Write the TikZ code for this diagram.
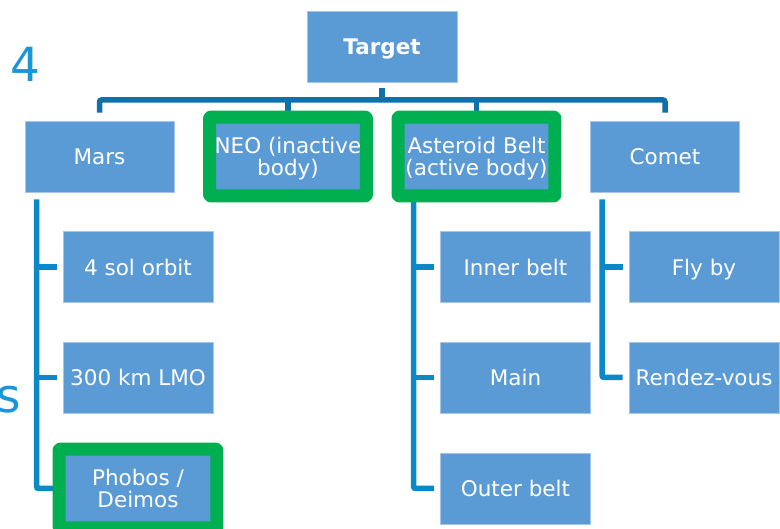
\documentclass[tikz,border=0pt]{standalone}
\usepackage{fontspec}
\setmainfont{DejaVu Sans}
\usetikzlibrary{fit}
\definecolor{boxblue}{RGB}{91,155,213}
\definecolor{boxedge}{RGB}{165,198,232}
\definecolor{pickgreen}{RGB}{0,176,80}
\definecolor{trunkblue}{RGB}{16,112,170}
\definecolor{branchblue}{RGB}{10,136,200}
\definecolor{slideblue}{RGB}{26,149,216}

\begin{document}
\begin{tikzpicture}[x=1pt,y=-1pt,
  box/.style={draw=boxedge,line width=0.8pt,fill=boxblue,text=white,align=center,text depth=0pt,
    minimum width=149pt,minimum height=71pt,inner sep=0pt,font=\fontsize{21.5}{22}\selectfont},
  pick/.style={draw=pickgreen,line width=13pt,line join=round,rounded corners=1pt,inner sep=3.5pt},
  trunk/.style={draw=trunkblue,line width=5.5pt,rounded corners=2pt},
  branch/.style={draw=branchblue,line width=5.5pt,rounded corners=2pt},
  slide/.style={text=slideblue,inner sep=0pt,font=\fontsize{47}{47}\selectfont}]
\useasboundingbox (0,0) rectangle (780,529);
\clip (0,0) rectangle (780,529);

% leftovers of the slide text
\node[slide,anchor=base] (four) at (25.5,82) {4};
\node[slide,anchor=base] (ess) at (8.5,413) {s};

\node[box,font=\bfseries\fontsize{21.5}{22}\selectfont,minimum width=150pt] (target) at (382,46.5) {Target};

\node[box] (mars) at (99.5,156.5) {Mars};
\node[box] (neo) at (288,156.5) {NEO (inactive\\body)};
\node[box] (belt) at (476.5,156.5) {Asteroid Belt\\(active body)};
\node[box] (comet) at (665,156.5) {Comet};

\node[box,minimum width=150pt] (sol) at (138,267) {4 sol orbit};
\node[box,minimum width=150pt] (lmo) at (138,377.5) {300 km LMO};
\node[box,minimum width=150pt] (phobos) at (138,488.5) {Phobos /\\Deimos};
\node[box,minimum width=150pt] (inner) at (515.5,267) {Inner belt};
\node[box,minimum width=150pt] (main) at (515.5,377.5) {Main};
\node[box,minimum width=150pt] (outer) at (515.5,488.5) {Outer belt};
\node[box,minimum width=150pt] (flyby) at (704,267) {Fly by};
\node[box,minimum width=150pt] (rdv) at (704,377.5) {Rendez-vous};

% top level
\coordinate (bus) at (382,100);
\draw[trunk] ([yshift=-6pt]target.south) -- (bus);
\draw[trunk] ([yshift=8pt]mars.north) -- (mars.north |- bus) -- (comet.north |- bus) -- ([yshift=8pt]comet.north);
\draw[trunk] (neo.north |- bus) -- ([yshift=8pt]neo.north);
\draw[trunk] (belt.north |- bus) -- ([yshift=8pt]belt.north);

% second level
\coordinate (marsdrop) at ([xshift=12pt,yshift=-7pt]mars.south west);
\coordinate (beltdrop) at ([xshift=12pt,yshift=-7pt]belt.south west);
\coordinate (cometdrop) at ([xshift=12pt,yshift=-7pt]comet.south west);
\draw[branch] (marsdrop) |- ([xshift=-9pt]phobos.west);
\draw[branch] (marsdrop |- sol.west) -- ([xshift=-6pt]sol.west);
\draw[branch] (marsdrop |- lmo.west) -- ([xshift=-6pt]lmo.west);
\draw[branch] (beltdrop) |- ([xshift=-6pt]outer.west);
\draw[branch] (beltdrop |- inner.west) -- ([xshift=-6pt]inner.west);
\draw[branch] (beltdrop |- main.west) -- ([xshift=-6pt]main.west);
\draw[branch] (cometdrop) |- ([xshift=-6pt]rdv.west);
\draw[branch] (cometdrop |- flyby.west) -- ([xshift=-6pt]flyby.west);

% chosen targets
\node[pick,fit=(neo)] (neopick) {};
\node[pick,fit=(belt)] (beltpick) {};
\node[pick,fit=(phobos)] (phobospick) {};
\end{tikzpicture}
\end{document}
